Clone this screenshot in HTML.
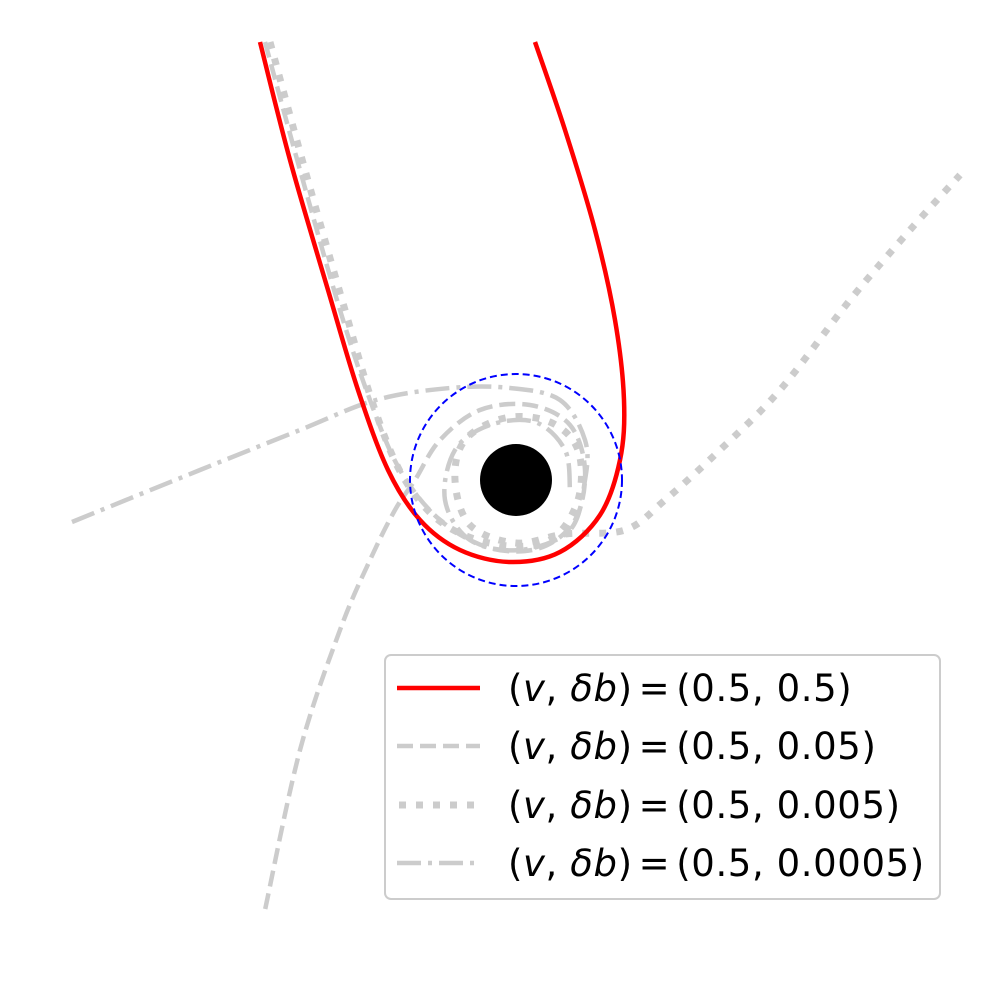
<!DOCTYPE html>
<html><head><meta charset="utf-8"><style>
html,body{margin:0;padding:0;background:#fff;width:1000px;height:1000px;overflow:hidden}
svg text{font-family:"DejaVu Sans","Liberation Sans",sans-serif;font-size:37px;letter-spacing:0.6px;fill:#000}
</style></head><body>
<svg id="chart" width="1000" height="1000" viewBox="0 0 1000 1000" xmlns="http://www.w3.org/2000/svg">
<g id="plot"></g>
<g id="legend">
<rect x="385" y="655" width="555" height="244" rx="6" fill="#fff" fill-opacity="0.8" stroke="#ccc" stroke-width="2"/>
<line x1="397" y1="688" x2="480" y2="688" stroke="#ff0000" stroke-width="4.5"/>
<text x="508" y="701">(<tspan font-style="italic">v</tspan>, <tspan font-style="italic">δb</tspan>)<tspan dx="6">=</tspan><tspan dx="6">(0.5, 0.5)</tspan></text>
<line x1="397" y1="746" x2="480" y2="746" stroke="#cccccc" stroke-width="4.5" stroke-dasharray="16,7"/>
<text x="508" y="759">(<tspan font-style="italic">v</tspan>, <tspan font-style="italic">δb</tspan>)<tspan dx="6">=</tspan><tspan dx="6">(0.5, 0.05)</tspan></text>
<line x1="399" y1="805" x2="480" y2="805" stroke="#cccccc" stroke-width="7" stroke-dasharray="7,10"/>
<text x="508" y="818">(<tspan font-style="italic">v</tspan>, <tspan font-style="italic">δb</tspan>)<tspan dx="6">=</tspan><tspan dx="6">(0.5, 0.005)</tspan></text>
<line x1="397" y1="863" x2="480" y2="863" stroke="#cccccc" stroke-width="4.5" stroke-dasharray="24,7,4,7"/>
<text x="508" y="876">(<tspan font-style="italic">v</tspan>, <tspan font-style="italic">δb</tspan>)<tspan dx="6">=</tspan><tspan dx="6">(0.5, 0.0005)</tspan></text>
</g>
</svg>
<script>
const seriesRed=[[-12.8,21.9],[-11.3,16],[-9.4,9.5],[-7.9,4.5],[-6.4,0.5],[-4.8,-2],[-2.8,-3.5],[-0.3,-4.1],[2.2,-3.6],[4.2,-1.75],[5.2,1],[5.4,4],[4.95,8],[3.95,12.5],[2.45,17.5],[0.95,21.9]];
const seriesDashed=[[-12.55,21.9],[-10.8,15.5],[-8.8,8.5],[-7.3,4],[-5.8,0.5],[-3.8,-2],[-1.3,-3.4],[1.2,-3.4],[2.95,-2],[3.45,0.5],[2.7,2.75],[0.7,3.75],[-1.8,3.5],[-3.8,2],[-5.05,0],[-6.05,-1.5],[-7.3,-4],[-8.8,-7.5],[-10.8,-13.5],[-12.55,-21.5]];
const seriesDotted=[[-12.3,21.9],[-10.55,15.5],[-8.55,8.5],[-7.05,3.5],[-5.55,0],[-3.55,-2.25],[-0.8,-3.25],[1.7,-3],[3.1,-1],[3.1,1.5],[1.7,2.9],[-0.55,3.1],[-2.55,2],[-3.05,0],[-2.3,-2.25],[0,-3.15],[2.45,-2.7],[5.45,-2.5],[7.45,-1],[10.2,1.5],[13.2,4.5],[16.7,9],[19.7,12.5],[22.2,15.25]];
const seriesDashDot=[[-22.2,-2.1],[-15.8,0.5],[-10.8,2.5],[-7,4],[-3.3,4.6],[-0.3,4.6],[2.2,4],[3.45,2],[3.45,0],[2.7,-2.5],[0.2,-3.5],[-2.3,-3],[-3.55,-1],[-3.05,1.5],[-1.3,2.75],[0.95,2.9],[2.45,1.5],[2.7,-0.5]];
const horizonRadius=[1.8];
const circleRadius=[5.3];
const X0=516,Y0=480,S=20;
function sx(x){return X0+x*S;}
function sy(y){return Y0-y*S;}
const NS='http://www.w3.org/2000/svg';
const plot=document.getElementById('plot');
function pathFrom(pts){
  const p=pts.map(d=>[sx(d[0]),sy(d[1])]);
  let d='M'+p[0][0]+','+p[0][1];
  for(let i=0;i<p.length-1;i++){
    const a=p[Math.max(0,i-1)],b=p[i],c=p[i+1],e=p[Math.min(p.length-1,i+2)];
    const c1=[b[0]+(c[0]-a[0])/6,b[1]+(c[1]-a[1])/6];
    const c2=[c[0]-(e[0]-b[0])/6,c[1]-(e[1]-b[1])/6];
    d+=' C'+c1[0]+','+c1[1]+' '+c2[0]+','+c2[1]+' '+c[0]+','+c[1];
  }
  return d;
}
function addPath(pts,stroke,w,dash,name){
  const el=document.createElementNS(NS,'path');
  el.setAttribute('d',pathFrom(pts));
  el.setAttribute('fill','none');
  el.setAttribute('stroke',stroke);
  el.setAttribute('stroke-width',w);
  if(dash)el.setAttribute('stroke-dasharray',dash);
  
  
  plot.appendChild(el);
}
addPath(seriesDashed,'#cccccc',4.5,'16,7','trajectory-dashed');
addPath(seriesDotted,'#cccccc',7,'7,10','trajectory-dotted');
addPath(seriesDashDot,'#cccccc',4.5,'24,7,4,7','trajectory-dashdot');
addPath(seriesRed,'#ff0000',4.5,null,'trajectory-red');
const bh=document.createElementNS(NS,'circle');
bh.setAttribute('cx',sx(0));bh.setAttribute('cy',sy(0));bh.setAttribute('r',horizonRadius[0]*S);bh.setAttribute('fill','#000');


plot.appendChild(bh);
const ring=document.createElementNS(NS,'circle');
ring.setAttribute('cx',sx(0));ring.setAttribute('cy',sy(0));ring.setAttribute('r',circleRadius[0]*S);ring.setAttribute('fill','none');ring.setAttribute('stroke','#0000ff');ring.setAttribute('stroke-width','2');ring.setAttribute('stroke-dasharray','7,4');


plot.appendChild(ring);
</script>
</body></html>
